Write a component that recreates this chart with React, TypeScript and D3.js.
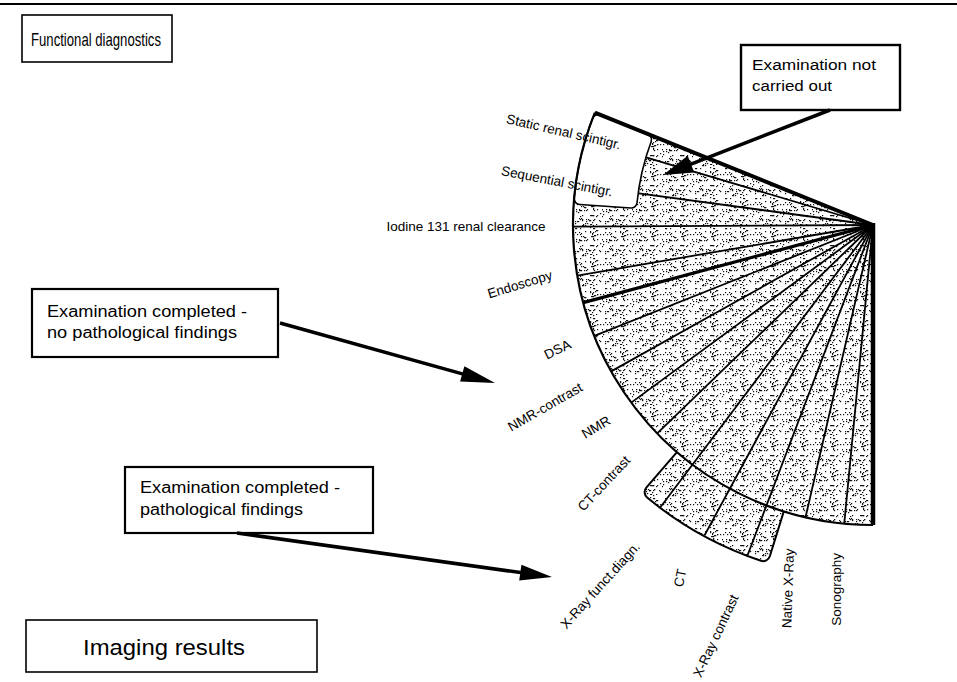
import React from "react";
import * as d3 from "d3";

// ---- data (angles in degrees below the horizontal, radial values in % of the full fan) ----
const functionalExams = ["Static renal scintigr.", "Sequential scintigr.", "Iodine 131 renal clearance", "Endoscopy"];
const functionalAngles = [-16.6, -7.7, 0.3, 9.7];
const imagingExams = ["DSA", "NMR-contrast", "NMR", "CT-contrast", "X-Ray funct.diagn.", "CT", "X-Ray contrast", "Native X-Ray", "Sonography"];
const imagingAngles = [21.7, 29.2, 36.3, 44.0, 53.0, 61.5, 69.2, 77.0, 84.5];
const fanBounds = [-22, 90];
const groupDivider = 15;
const notCarriedOutAngles = [-22, -4];
const notCarriedOutRadii = [79, 100];
const pathologicalAngles = [49.2, 72.7];
const pathologicalRadii = [100, 118];

// ---- layout (not data) ----
const CX = 873;
const CY = 225;
const R_FULL = 300;
const funcLabelDist = [323, 319, 407, 358];
const funcLabelRot = [13, 11, 0, -17];
const imgLabelDist = [339, 375, 343, 373, 452, 402, 440, 373, 366];
const imgLabelRot = [-26, -30, -31, -47, -48, -78, -65, -88, -90];

const FONT = "'Liberation Sans', Arial, Helvetica, sans-serif";

// deterministic stipple texture (not data)
const TILE = 30;
const dots: [number, number][] = (() => {
  const out: [number, number][] = [];
  let s = 12345;
  const next = () => {
    s = (s * 1103515245 + 12345) % 2147483648;
    return s / 2147483648;
  };
  for (let i = 0; i < 95; i++) out.push([Math.floor(next() * TILE), Math.floor(next() * TILE)]);
  return out;
})();

function Arrow({ x1, y1, x2, y2, head, half, w }: any) {
  const dx = x2 - x1, dy = y2 - y1;
  const L = Math.hypot(dx, dy);
  const ux = dx / L, uy = dy / L;
  const bx = x2 - ux * head, by = y2 - uy * head;
  const px = -uy, py = ux;
  return (
    <g>
      <line x1={x1} y1={y1} x2={bx + ux * 2} y2={by + uy * 2} stroke="#000" strokeWidth={w} />
      <polygon
        points={`${x2},${y2} ${bx + px * half},${by + py * half} ${bx - px * half},${by - py * half}`}
        fill="#000"
      />
    </g>
  );
}

export default function App() {
  const r = d3.scaleLinear().domain([0, 100]).range([0, R_FULL]);
  // d3.arc angle convention: 0 = 12 o'clock, clockwise
  const ang = d3.scaleLinear().domain([0, 90]).range([1.5 * Math.PI, Math.PI]);
  const pt = (a: number, rad: number): [number, number] => {
    const t = ang(a);
    return [CX + rad * Math.sin(t), CY - rad * Math.cos(t)];
  };
  const arcGen = d3.arc<any>();

  const mainFan = arcGen({
    innerRadius: 0,
    outerRadius: r(100),
    startAngle: ang(fanBounds[1]),
    endAngle: ang(fanBounds[0]),
  }) as string;

  const pathoBand = d3
    .arc<any>()
    .cornerRadius(7)({
      innerRadius: r(70),
      outerRadius: r(pathologicalRadii[1]),
      startAngle: ang(pathologicalAngles[1]),
      endAngle: ang(pathologicalAngles[0]),
    }) as string;

  const whiteBand = d3
    .arc<any>()
    .cornerRadius(6)({
      innerRadius: r(notCarriedOutRadii[0]),
      outerRadius: r(notCarriedOutRadii[1]),
      startAngle: ang(notCarriedOutAngles[1]),
      endAngle: ang(notCarriedOutAngles[0]),
    }) as string;

  const outerArc = d3.path();
  {
    const s = ((180 - fanBounds[0]) * Math.PI) / 180;
    const e = ((180 - fanBounds[1]) * Math.PI) / 180;
    const [sx, sy] = pt(fanBounds[0], r(100));
    outerArc.moveTo(sx, sy);
    outerArc.arc(CX, CY, r(100), s, e, true);
  }

  const spokes = [...functionalAngles, ...imagingAngles];
  const spokeEnd = (a: number) =>
    a >= pathologicalAngles[0] && a <= pathologicalAngles[1] ? r(pathologicalRadii[1]) - 1 : r(100);

  const labels = [
    ...functionalExams.map((t, i) => ({ t, a: functionalAngles[i], d: funcLabelDist[i], rot: funcLabelRot[i] })),
    ...imagingExams.map((t, i) => ({ t, a: imagingAngles[i], d: imgLabelDist[i], rot: imgLabelRot[i] })),
  ];

  const [tx, ty] = pt(fanBounds[0], r(100));
  const [bx, by] = pt(fanBounds[1], r(100));
  const [dvx, dvy] = pt(groupDivider, r(100));

  return (
    <svg
      width={957}
      height={682}
      style={{ position: "absolute", left: 0, top: 0, background: "#fff" }}
      fontFamily={FONT}
    >
      <defs>
        <pattern id="stipple" width={TILE} height={TILE} patternUnits="userSpaceOnUse">
          <rect width={TILE} height={TILE} fill="#fff" />
          {dots.map(([x, y], i) => (
            <rect key={i} x={x} y={y} width={1.2} height={1.2} fill="#111" />
          ))}
        </pattern>
      </defs>
      <rect width={957} height={682} fill="#fff" />

      {/* top rule */}
      <line x1={0} y1={4} x2={957} y2={4} stroke="#000" strokeWidth={2} />

      <g>
        {/* pathological findings extension */}
        <path d={pathoBand} transform={`translate(${CX},${CY})`} fill="url(#stipple)" stroke="#000" strokeWidth={2} />
        {/* main fan */}
        <path d={mainFan} transform={`translate(${CX},${CY})`} fill="url(#stipple)" />
        {/* spokes */}
        {spokes.map((a, i) => {
          const [x, y] = pt(a, spokeEnd(a));
          return <line key={i} x1={CX} y1={CY} x2={x} y2={y} stroke="#000" strokeWidth={1.8} />;
        })}
        {/* divider between functional diagnostics and imaging */}
        <line x1={CX} y1={CY} x2={dvx} y2={dvy} stroke="#000" strokeWidth={3.2} />
        {/* not carried out band */}
        <path d={whiteBand} transform={`translate(${CX},${CY})`} fill="#fff" stroke="#000" strokeWidth={1.6} />
        {/* outer arc */}
        <path d={outerArc.toString()} fill="none" stroke="#000" strokeWidth={2.2} />
        {/* edges */}
        <line x1={CX} y1={CY} x2={tx} y2={ty} stroke="#000" strokeWidth={4} />
        <line x1={CX} y1={CY - 2} x2={bx} y2={by} stroke="#000" strokeWidth={4.5} />
        <circle cx={CX - 2} cy={CY + 2} r={3} fill="#000" />
      </g>

      {/* spoke labels */}
      {labels.map((l, i) => {
        const [x, y] = pt(l.a, l.d);
        return (
          <text
            key={i}
            x={x}
            y={y}
            fontSize={13.5}
            textAnchor="middle"
            dominantBaseline="middle"
            transform={`rotate(${l.rot},${x},${y})`}
          >
            {l.t}
          </text>
        );
      })}

      {/* boxes */}
      <rect x={22} y={15} width={150} height={47} fill="#fff" stroke="#000" strokeWidth={1.6} />
      <text x={31} y={46} fontSize={19} textLength={130} lengthAdjust="spacingAndGlyphs">
        Functional diagnostics
      </text>

      <rect x={741} y={45} width={159} height={65} fill="#fff" stroke="#000" strokeWidth={2.4} />
      <text x={752} y={70} fontSize={15.5} textLength={124} lengthAdjust="spacingAndGlyphs">Examination not</text>
      <text x={752} y={91} fontSize={15.5} textLength={80} lengthAdjust="spacingAndGlyphs">carried out</text>

      <rect x={32} y={289} width={246} height={68} fill="#fff" stroke="#000" strokeWidth={2.2} />
      <text x={47} y={317} fontSize={16} textLength={200} lengthAdjust="spacingAndGlyphs">
        Examination completed -
      </text>
      <text x={47} y={338} fontSize={16} textLength={190} lengthAdjust="spacingAndGlyphs">
        no pathological findings
      </text>

      <rect x={125} y={467} width={248} height={66} fill="#fff" stroke="#000" strokeWidth={2.2} />
      <text x={140} y={493} fontSize={16} textLength={200} lengthAdjust="spacingAndGlyphs">
        Examination completed -
      </text>
      <text x={140} y={515} fontSize={16} textLength={163} lengthAdjust="spacingAndGlyphs">
        pathological findings
      </text>

      <rect x={26} y={620} width={291} height={52} fill="#fff" stroke="#000" strokeWidth={1.6} />
      <text x={83} y={655} fontSize={22} textLength={162} lengthAdjust="spacingAndGlyphs">
        Imaging results
      </text>

      {/* arrows */}
      <Arrow x1={830} y1={110} x2={663} y2={175} head={30} half={9} w={3.5} />
      <Arrow x1={280} y1={323} x2={495} y2={383} head={34} half={8} w={3.5} />
      <Arrow x1={237} y1={533} x2={552} y2={577} head={32} half={8} w={3.5} />
    </svg>
  );
}
